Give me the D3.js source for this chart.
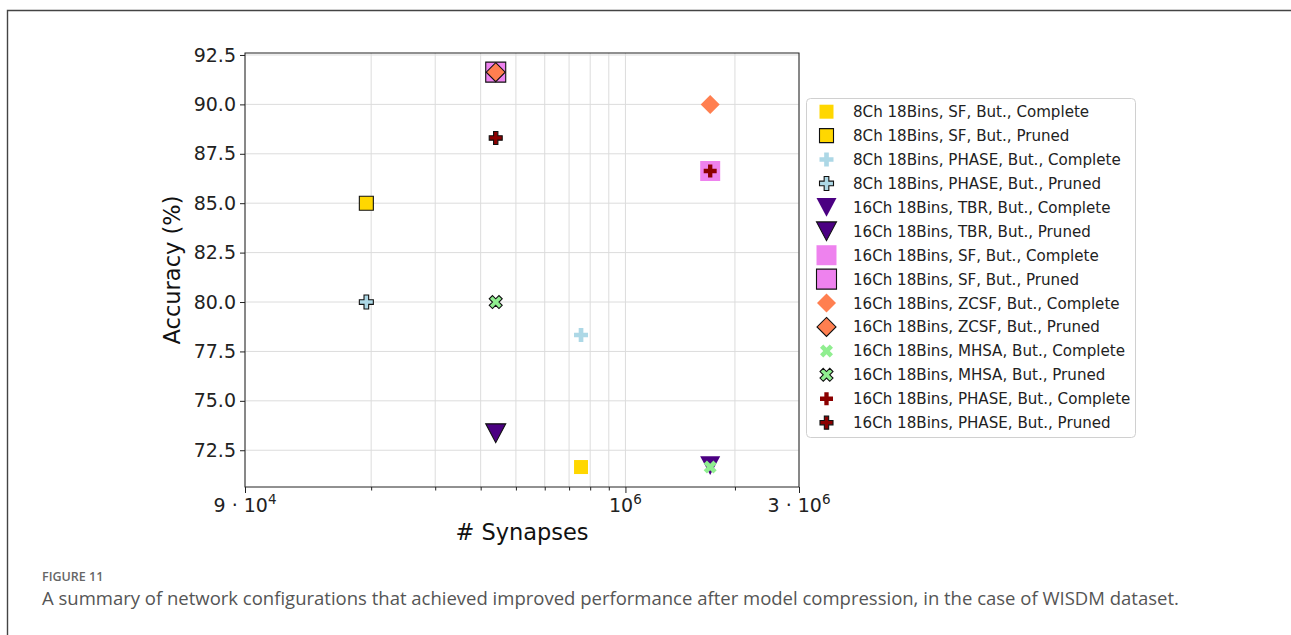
<!DOCTYPE html>
<html><head><meta charset="utf-8">
<script src="https://cdn.jsdelivr.net/npm/d3@7"></script>
<style>body{margin:0;background:#fff;overflow:hidden}svg{display:block}</style>
</head><body>
<script>
// ---------- data ----------
const configNames = [
  "8Ch 18Bins, SF, But., Complete",
  "8Ch 18Bins, SF, But., Pruned",
  "8Ch 18Bins, PHASE, But., Complete",
  "8Ch 18Bins, PHASE, But., Pruned",
  "16Ch 18Bins, TBR, But., Complete",
  "16Ch 18Bins, TBR, But., Pruned",
  "16Ch 18Bins, SF, But., Complete",
  "16Ch 18Bins, SF, But., Pruned",
  "16Ch 18Bins, ZCSF, But., Complete",
  "16Ch 18Bins, ZCSF, But., Pruned",
  "16Ch 18Bins, MHSA, But., Complete",
  "16Ch 18Bins, MHSA, But., Pruned",
  "16Ch 18Bins, PHASE, But., Complete",
  "16Ch 18Bins, PHASE, But., Pruned"
];
const synapses = [7.55e5, 1.94e5, 7.55e5, 1.94e5, 1.71e6, 4.4e5, 1.71e6, 4.4e5, 1.71e6, 4.4e5, 1.71e6, 4.4e5, 1.71e6, 4.4e5];
const accuracy = [71.65, 85.0, 78.33, 80.0, 71.72, 73.36, 86.63, 91.63, 90.0, 91.63, 71.65, 80.0, 86.63, 88.3];
const yTickValues = [72.5, 75.0, 77.5, 80.0, 82.5, 85.0, 87.5, 90.0, 92.5];
const xTickValues = [9e4, 1e6, 3e6];
const xTickLabels = [["9 · 10", "4"], ["10", "6"], ["3 · 10", "6"]];
const xMinorTicks = [2e5, 3e5, 4e5, 5e5, 6e5, 7e5, 8e5, 9e5, 2e6];
const xLabel = "# Synapses";
const yLabel = "Accuracy (%)";
const figureTitle = "FIGURE 11";
const figureCaption = "A summary of network configurations that achieved improved performance after model compression, in the case of WISDM dataset.";

// ---------- styles ----------
const markerColor = ["#FFD700","#FFD700","#ADD8E6","#ADD8E6","#4B0082","#4B0082","#EE82EE","#EE82EE","#FF7F50","#FF7F50","#90EE90","#90EE90","#8B0000","#8B0000"];
const markerShape = ["square","square","plus","plus","tri","tri","square","square","diamond","diamond","x","x","plus","plus"];
const markerSize  = [14,14,14,14,20,20,20,20,19,19,13,13,13,13];
const markerEdge  = [false,true,false,true,false,true,false,true,false,true,false,true,false,true];

function markerPath(shape, s) {
  const h = s / 2;
  if (shape === "square") return `M${-h},${-h}H${h}V${h}H${-h}Z`;
  if (shape === "tri") { const hh = s * 0.47; return `M${-h},${-hh}L${h},${-hh}L0,${hh}Z`; }
  if (shape === "diamond") return `M0,${-h}L${h},0L0,${h}L${-h},0Z`;
  if (shape === "plus") {
    const p = [[-1,-3],[1,-3],[1,-1],[3,-1],[3,1],[1,1],[1,3],[-1,3],[-1,1],[-3,1],[-3,-1],[-1,-1]];
    return "M" + p.map(d => [d[0]/6*s, d[1]/6*s].join(",")).join("L") + "Z";
  }
  if (shape === "x") {
    const p = [[-1,-2],[0,-1],[1,-2],[2,-1],[1,0],[2,1],[1,2],[0,1],[-1,2],[-2,1],[-1,0],[-2,-1]];
    return "M" + p.map(d => [d[0]/4*s, d[1]/4*s].join(",")).join("L") + "Z";
  }
}

const W = 1291, H = 635;
const svg = d3.select("body").append("svg").attr("width", W).attr("height", H);

// outer frame
svg.append("path").attr("d", "M7.5,635V10.5H1291").attr("fill", "none").attr("stroke", "#444").attr("stroke-width", 1.4);

const plot = {left: 245, right: 799, top: 53, bottom: 487};
const x = d3.scaleLog().domain([9e4, 3e6]).range([plot.left, plot.right]);
const y = d3.scaleLinear().domain([70.64, 92.6]).range([plot.bottom, plot.top]);

const font = "DejaVu Sans, sans-serif";

// grid
const grid = svg.append("g").attr("stroke", "#dcdcdc").attr("stroke-width", 1);
yTickValues.forEach(v => grid.append("line").attr("x1", plot.left).attr("x2", plot.right).attr("y1", y(v)).attr("y2", y(v)));
xTickValues.concat(xMinorTicks).forEach(v => grid.append("line").attr("x1", x(v)).attr("x2", x(v)).attr("y1", plot.top).attr("y2", plot.bottom));

// markers
const marks = svg.append("g");
configNames.forEach((n, i) => {
  marks.append("path")
    .attr("d", markerPath(markerShape[i], markerSize[i]))
    .attr("transform", `translate(${x(synapses[i])},${y(accuracy[i])})`)
    .attr("fill", markerColor[i])
    .attr("stroke", markerEdge[i] ? "#111" : "none")
    .attr("stroke-width", 1.1)
    .attr("stroke-linejoin", "miter");
});

// spines
svg.append("rect").attr("x", plot.left).attr("y", plot.top).attr("width", plot.right - plot.left).attr("height", plot.bottom - plot.top)
  .attr("fill", "none").attr("stroke", "#222").attr("stroke-width", 1);

// y axis
const yAxis = d3.axisLeft(y).tickValues(yTickValues).tickFormat(d3.format(".1f")).tickSize(5).tickPadding(4);
const gy = svg.append("g").attr("transform", `translate(${plot.left},0)`).call(yAxis);
gy.select(".domain").remove();
gy.selectAll("line").attr("stroke", "#222");
gy.selectAll("text").attr("font-family", font).attr("font-size", 19).attr("fill", "#222");

// x axis
const xAxis = d3.axisBottom(x).tickValues(xTickValues).tickFormat("").tickSize(6);
const gx = svg.append("g").attr("transform", `translate(0,${plot.bottom})`).call(xAxis);
gx.select(".domain").remove();
gx.selectAll("line").attr("stroke", "#222");
const xMinor = d3.axisBottom(x).tickValues(xMinorTicks).tickFormat("").tickSize(3.5);
const gxm = svg.append("g").attr("transform", `translate(0,${plot.bottom})`).call(xMinor);
gxm.select(".domain").remove();
gxm.selectAll("line").attr("stroke", "#222");
xTickValues.forEach((v, i) => {
  const t = svg.append("text").attr("x", x(v)).attr("y", 512).attr("text-anchor", "middle")
    .attr("font-family", font).attr("font-size", 19).attr("fill", "#222");
  t.append("tspan").text(xTickLabels[i][0]);
  t.append("tspan").attr("dy", -8).attr("font-size", 13.5).text(xTickLabels[i][1]);
});

// axis labels
svg.append("text").attr("x", (plot.left + plot.right) / 2).attr("y", 540).attr("text-anchor", "middle")
  .attr("font-family", font).attr("font-size", 22.5).attr("fill", "#111").text(xLabel);
svg.append("text").attr("transform", `translate(180,${(plot.top + plot.bottom) / 2}) rotate(-90)`).attr("text-anchor", "middle")
  .attr("font-family", font).attr("font-size", 22.5).attr("fill", "#111").text(yLabel);

// legend
const lg = svg.append("g");
lg.append("rect").attr("x", 806.5).attr("y", 98.5).attr("width", 329).attr("height", 339).attr("rx", 4)
  .attr("fill", "#fff").attr("stroke", "#d0d0d0").attr("stroke-width", 1);
configNames.forEach((n, i) => {
  const cy = 111.7 + i * 23.92;
  lg.append("path").attr("d", markerPath(markerShape[i], markerSize[i]))
    .attr("transform", `translate(826.5,${cy})`)
    .attr("fill", markerColor[i])
    .attr("stroke", markerEdge[i] ? "#111" : "none").attr("stroke-width", 1.1);
  lg.append("text").attr("x", 853).attr("y", cy + 5.5).attr("font-family", font).attr("font-size", 15.1)
    .attr("fill", "#222").text(n);
});

// caption
svg.append("text").attr("x", 42).attr("y", 581).attr("font-family", "Open Sans, sans-serif").attr("font-weight", 600)
  .attr("font-size", 12.5).attr("fill", "#666").text(figureTitle);
svg.append("text").attr("x", 42).attr("y", 605).attr("font-family", "Open Sans, sans-serif")
  .attr("font-size", 18.5).attr("fill", "#555").text(figureCaption);
</script>
</body></html>
